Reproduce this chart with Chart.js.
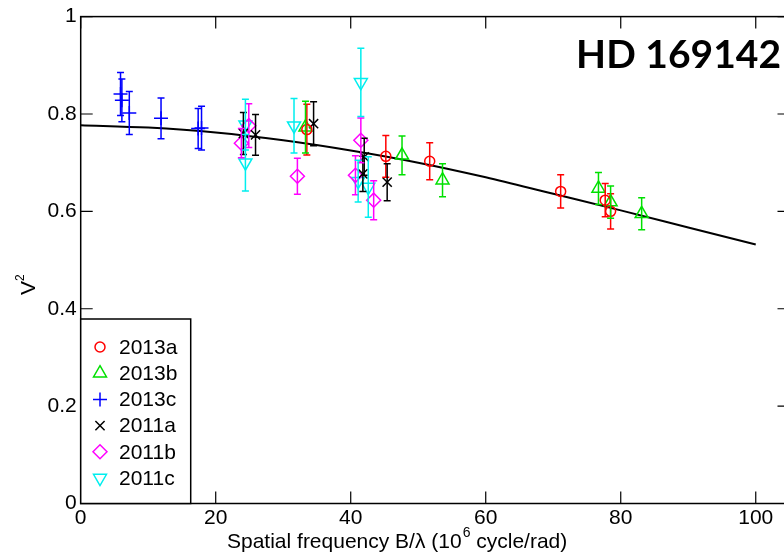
<!DOCTYPE html>
<html>
<head>
<meta charset="utf-8">
<script src="https://cdn.jsdelivr.net/npm/chart.js@4"></script>
<style>
html, body { margin: 0; padding: 0; overflow: hidden; background: #fff; }
</style>
</head>
<body>
<canvas id="chart" width="800" height="554"></canvas>
<script>
// model curve
const modelX = [0, 10, 20, 30, 40, 50, 60, 70, 80, 90, 100];
const modelV = [0.777, 0.772, 0.762, 0.746, 0.725, 0.700, 0.670, 0.636, 0.602, 0.567, 0.532];

// measured V^2 with errors, one group per epoch
const x2013a = [33.5, 45.2, 51.7, 71.1, 77.7, 78.5];
const v2013a = [0.768, 0.713, 0.703, 0.641, 0.623, 0.600];
const e2013a = [0.052, 0.043, 0.038, 0.034, 0.034, 0.036];

const x2013b = [33.3, 47.6, 53.6, 76.7, 78.5, 83.1];
const v2013b = [0.773, 0.715, 0.664, 0.647, 0.619, 0.595];
const e2013b = [0.053, 0.040, 0.034, 0.033, 0.033, 0.033];

const x2013c = [5.9, 6.1, 7.2, 11.9, 17.4, 17.9];
const v2013c = [0.841, 0.828, 0.802, 0.791, 0.770, 0.771];
const e2013c = [0.044, 0.044, 0.044, 0.042, 0.041, 0.045];

const x2011a = [24.1, 25.9, 34.5, 42.0, 41.8, 45.4];
const v2011a = [0.760, 0.757, 0.780, 0.712, 0.677, 0.660];
const e2011a = [0.043, 0.042, 0.045, 0.038, 0.036, 0.038];

const x2011b = [23.8, 24.9, 32.1, 41.5, 40.7, 43.4];
const v2011b = [0.740, 0.776, 0.672, 0.746, 0.674, 0.623];
const e2011b = [0.030, 0.045, 0.037, 0.046, 0.040, 0.040];

const x2011c = [24.4, 24.4, 31.6, 41.5, 41.1, 42.6];
const v2011c = [0.778, 0.700, 0.776, 0.865, 0.662, 0.650];
const e2011c = [0.052, 0.058, 0.056, 0.070, 0.043, 0.062];

const xTicks = [0, 20, 40, 60, 80, 100];
const xTickLabels = ['0', '20', '40', '60', '80', '100'];
const yTicks = [0, 0.2, 0.4, 0.6, 0.8, 1];
const yTickLabels = ['0', '0.2', '0.4', '0.6', '0.8', '1'];

const FONT = '"Liberation Sans", Arial, sans-serif';

function pts(xs, vs) {
  return xs.map((x, i) => ({ x: x, y: vs[i] }));
}

function series(label, xs, vs, es, color, style, radius, rot) {
  return {
    type: 'scatter',
    label: label,
    data: pts(xs, vs),
    errors: es,
    borderColor: color,
    backgroundColor: 'rgba(0,0,0,0)',
    pointStyle: style,
    pointRadius: radius,
    pointRotation: rot || 0,
    pointBorderWidth: 1.5,
    showLine: false
  };
}

const datasets = [
  series('2013a', x2013a, v2013a, e2013a, '#ff0000', 'circle', 5),
  series('2013b', x2013b, v2013b, e2013b, '#00e000', 'triangle', 7.5),
  series('2013c', x2013c, v2013c, e2013c, '#0000ff', 'cross', 7),
  series('2011a', x2011a, v2011a, e2011a, '#000000', 'crossRot', 6.5),
  series('2011b', x2011b, v2011b, e2011b, '#ff00ff', 'rectRot', 7),
  series('2011c', x2011c, v2011c, e2011c, '#00eeee', 'triangle', 7.5, 180),
  {
    type: 'line',
    label: 'model',
    data: pts(modelX, modelV),
    borderColor: '#000',
    borderWidth: 2,
    pointRadius: 0,
    cubicInterpolationMode: 'monotone',
    fill: false
  }
];

// vertical error bars with small caps
const errorBars = {
  id: 'errorBars',
  afterDatasetsDraw(chart) {
    const ctx = chart.ctx, xs = chart.scales.x, ys = chart.scales.y;
    chart.data.datasets.forEach(ds => {
      if (!ds.errors) return;
      ctx.save();
      ctx.strokeStyle = ds.borderColor;
      ctx.lineWidth = 1.5;
      ds.data.forEach((p, j) => {
        const px = xs.getPixelForValue(p.x);
        const y1 = ys.getPixelForValue(p.y + ds.errors[j]);
        const y2 = ys.getPixelForValue(p.y - ds.errors[j]);
        ctx.beginPath();
        ctx.moveTo(px, y1); ctx.lineTo(px, y2);
        ctx.moveTo(px - 3.5, y1); ctx.lineTo(px + 3.5, y1);
        ctx.moveTo(px - 3.5, y2); ctx.lineTo(px + 3.5, y2);
        ctx.stroke();
      });
      ctx.restore();
    });
  }
};

// frame, inward ticks, legend box, titles
const decorations = {
  id: 'decorations',
  afterDraw(chart) {
    const ctx = chart.ctx, a = chart.chartArea;
    const xs = chart.scales.x, ys = chart.scales.y;
    ctx.save();
    ctx.strokeStyle = '#000';
    ctx.lineWidth = 1.5;
    ctx.strokeRect(a.left, a.top, a.right - a.left, a.bottom - a.top);

    ctx.lineWidth = 1.2;
    ctx.beginPath();
    xTicks.forEach(v => {
      const px = xs.getPixelForValue(v);
      ctx.moveTo(px, a.bottom); ctx.lineTo(px, a.bottom - 12);
      ctx.moveTo(px, a.top); ctx.lineTo(px, a.top + 12);
    });
    yTicks.forEach(v => {
      const py = ys.getPixelForValue(v);
      ctx.moveTo(a.left, py); ctx.lineTo(a.left + 12, py);
      ctx.moveTo(a.right, py); ctx.lineTo(a.right - 12, py);
    });
    ctx.stroke();

    // legend
    const lx = a.left, ly = 319, lw = 110, lh = a.bottom - 319;
    ctx.fillStyle = '#fff';
    ctx.fillRect(lx, ly, lw, lh);
    ctx.lineWidth = 1.5;
    ctx.strokeRect(lx, ly, lw, lh);
    ctx.font = '21px ' + FONT;
    ctx.textBaseline = 'middle';
    ctx.textAlign = 'left';
    chart.data.datasets.forEach((ds, i) => {
      if (!ds.errors) return;
      const yy = 347 + i * 26.2;
      ctx.save();
      ctx.strokeStyle = ds.borderColor;
      ctx.fillStyle = 'rgba(0,0,0,0)';
      ctx.lineWidth = 1.5;
      Chart.helpers.drawPoint(ctx, {
        pointStyle: ds.pointStyle,
        radius: ds.pointRadius,
        rotation: ds.pointRotation,
        borderWidth: 1.5
      }, 100, yy);
      ctx.restore();
      ctx.fillStyle = '#000';
      ctx.fillText(ds.label, 119, yy + 1);
    });

    // star name
    ctx.fillStyle = '#000';
    ctx.font = 'bold 39px Lato, "Open Sans", sans-serif';
    ctx.textAlign = 'right';
    ctx.textBaseline = 'alphabetic';
    ctx.fillText('HD 169142', 781, 68);

    // x title with superscript
    ctx.textAlign = 'left';
    ctx.font = '21px ' + FONT;
    const p1 = 'Spatial frequency B/\u03bb (10', p2 = '6', p3 = ' cycle/rad)';
    let tx = 227;
    ctx.fillText(p1, tx, 548);
    tx += ctx.measureText(p1).width;
    ctx.font = '14px ' + FONT;
    ctx.fillText(p2, tx + 1, 537);
    tx += ctx.measureText(p2).width + 1;
    ctx.font = '21px ' + FONT;
    ctx.fillText(p3, tx, 548);

    // y title V^2, rotated
    ctx.translate(35, 295);
    ctx.rotate(-Math.PI / 2);
    ctx.font = '21px ' + FONT;
    ctx.fillText('V', 0, 0);
    const wv = ctx.measureText('V').width;
    ctx.font = '12px ' + FONT;
    ctx.fillText('2', wv, -11.5);
    ctx.restore();
  }
};

new Chart(document.getElementById('chart').getContext('2d'), {
  type: 'scatter',
  data: { datasets: datasets },
  options: {
    responsive: false,
    animation: false,
    layout: { padding: { top: 16, right: 10.5, left: 0, bottom: 0 } },
    plugins: { legend: { display: false }, tooltip: { enabled: false } },
    scales: {
      x: {
        type: 'linear',
        min: 0,
        max: 105,
        grid: { display: false, drawTicks: false },
        border: { display: false },
        ticks: {
          color: '#000',
          font: { family: FONT, size: 21 },
          padding: 2,
          maxRotation: 0,
          callback: (v, i) => xTickLabels[i]
        },
        afterBuildTicks: s => { s.ticks = xTicks.map(v => ({ value: v })); },
        afterFit: s => { s.height = 50.5; }
      },
      y: {
        type: 'linear',
        min: 0,
        max: 1,
        grid: { display: false, drawTicks: false },
        border: { display: false },
        ticks: {
          color: '#000',
          font: { family: FONT, size: 21 },
          padding: 4,
          callback: (v, i) => yTickLabels[i]
        },
        afterBuildTicks: s => { s.ticks = yTicks.map(v => ({ value: v })); },
        afterFit: s => { s.width = 80.7; }
      }
    }
  },
  plugins: [errorBars, decorations]
});
</script>
</body>
</html>
